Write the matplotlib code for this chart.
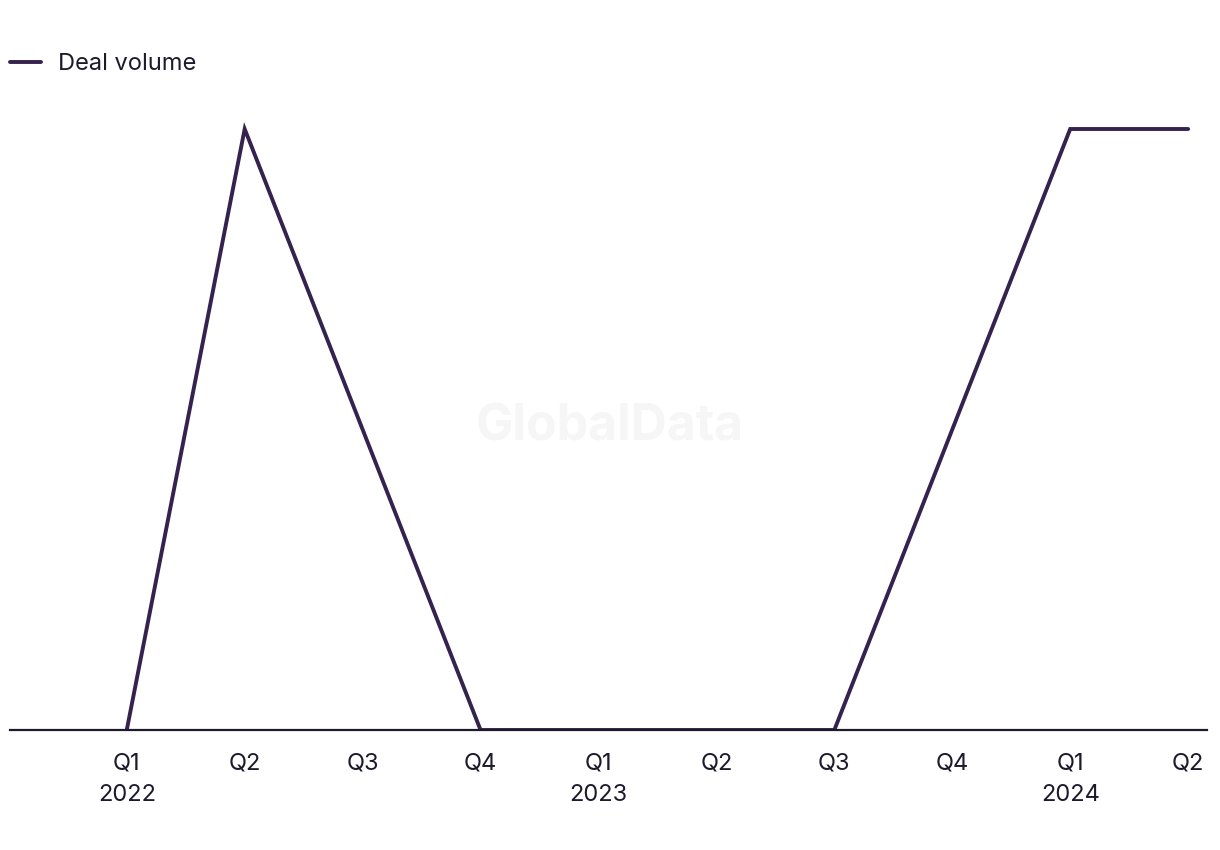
import matplotlib
matplotlib.use('Agg')
import matplotlib.pyplot as plt

quarters = ['Q1\n2022', 'Q2', 'Q3', 'Q4', 'Q1\n2023', 'Q2', 'Q3', 'Q4', 'Q1\n2024', 'Q2']
deal_volume = [0, 2, 1, 0, 0, 0, 0, 1, 2, 2]

plt.rcParams['font.family'] = ['Inter', 'DejaVu Sans']
line_color = '#35224f'
text_color = '#1c1a2b'

fig = plt.figure(figsize=(12.2, 8.5), dpi=100)
ax = fig.add_axes([10/1220, 1 - 730/850, 1197/1220, 630/850])

x = list(range(len(quarters)))
ax.plot(x, deal_volume, color=line_color, linewidth=2.8, label='Deal volume',
        solid_capstyle='round', solid_joinstyle='miter')

ax.set_xlim(-0.99, 9.16)
ax.set_ylim(0, 2 * 630 / 601)
ax.set_xticks(x)
ax.set_xticklabels(quarters, fontsize=17, color=text_color, linespacing=1.55)
ax.tick_params(axis='x', length=0, pad=16)
ax.set_yticks([])
for s in ['top', 'right', 'left']:
    ax.spines[s].set_visible(False)
ax.spines['bottom'].set_color(text_color)
ax.spines['bottom'].set_linewidth(1.6)

fig.text(0.5, 1 - 427/850, 'GlobalData', ha='center', va='center',
         fontsize=36, fontweight='bold', color='#f6f6f6', zorder=0)

leg = fig.legend(loc='center left', bbox_to_anchor=(10/1220, 1 - 64/850), frameon=False,
                 fontsize=17, handlelength=1.3, handletextpad=0.75, borderaxespad=0,
                 borderpad=0)
for t in leg.get_texts():
    t.set_color(text_color)

fig.savefig('out.png', dpi=100)
